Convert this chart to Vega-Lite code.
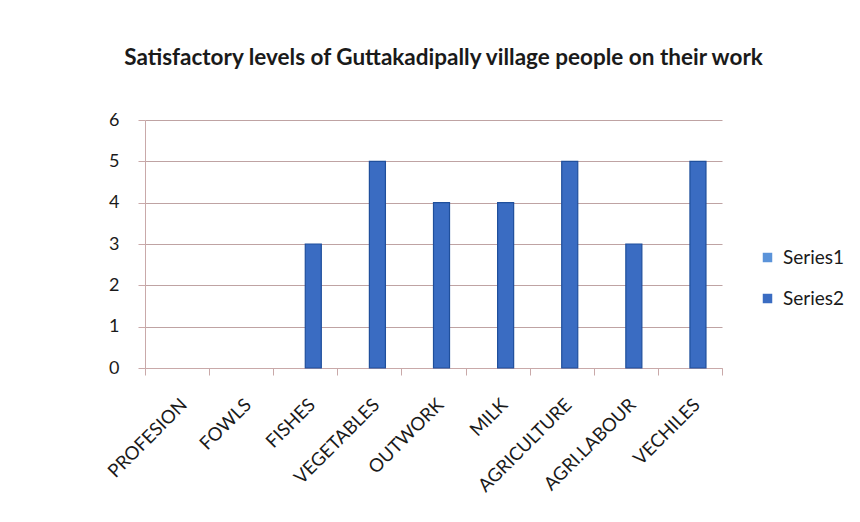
{
  "$schema": "https://vega.github.io/schema/vega-lite/v6.json",
  "autosize": {"type": "none"},
  "width": 577,
  "height": 248,
  "padding": {"left": 145, "top": 120, "right": 138, "bottom": 154},
  "background": "white",
  "title": {
    "text": "Satisfactory levels of Guttakadipally village people on their work",
    "font": "Lato",
    "fontSize": 22.5,
    "fontWeight": "bold",
    "color": "#1a1a1a",
    "anchor": "middle",
    "frame": "group",
    "dx": 10,
    "offset": 42
  },
  "data": {
    "values": [
      {"category": "PROFESION", "series": "Series1", "value": 0},
      {"category": "PROFESION", "series": "Series2", "value": 0},
      {"category": "FOWLS", "series": "Series1", "value": 0},
      {"category": "FOWLS", "series": "Series2", "value": 0},
      {"category": "FISHES", "series": "Series1", "value": 0},
      {"category": "FISHES", "series": "Series2", "value": 3},
      {"category": "VEGETABLES", "series": "Series1", "value": 0},
      {"category": "VEGETABLES", "series": "Series2", "value": 5},
      {"category": "OUTWORK", "series": "Series1", "value": 0},
      {"category": "OUTWORK", "series": "Series2", "value": 4},
      {"category": "MILK", "series": "Series1", "value": 0},
      {"category": "MILK", "series": "Series2", "value": 4},
      {"category": "AGRICULTURE", "series": "Series1", "value": 0},
      {"category": "AGRICULTURE", "series": "Series2", "value": 5},
      {"category": "AGRI.LABOUR", "series": "Series1", "value": 0},
      {"category": "AGRI.LABOUR", "series": "Series2", "value": 3},
      {"category": "VECHILES", "series": "Series1", "value": 0},
      {"category": "VECHILES", "series": "Series2", "value": 5}
    ]
  },
  "mark": {"type": "bar", "strokeWidth": 1.2},
  "encoding": {
    "x": {
      "field": "category",
      "type": "nominal",
      "sort": null,
      "scale": {"paddingInner": 0, "paddingOuter": 0},
      "axis": {
        "title": null,
        "labelAngle": -45,
        "labelFont": "Lato",
        "labelFontSize": 18.5,
        "labelColor": "#1a1a1a",
        "labelPadding": 20,
        "ticks": true,
        "tickBand": "extent",
        "tickSize": 7,
        "tickColor": "#c9a9a9",
        "domainColor": "#c9a9a9",
        "grid": false
      }
    },
    "xOffset": {
      "field": "series",
      "type": "nominal",
      "scale": {"domain": ["Series1", "Series2"], "paddingInner": 0, "paddingOuter": 1}
    },
    "y": {
      "field": "value",
      "type": "quantitative",
      "scale": {"domain": [0, 6], "nice": false},
      "axis": {
        "title": null,
        "values": [0, 1, 2, 3, 4, 5, 6],
        "labelFont": "Lato",
        "labelFontSize": 18,
        "labelColor": "#1a1a1a",
        "labelPadding": 19,
        "tickSize": 7,
        "tickColor": "#c9a9a9",
        "domainColor": "#c9a9a9",
        "gridColor": "#bfa3a3",
        "gridWidth": 1
      }
    },
    "stroke": {
      "condition": {"test": "datum.value > 0", "value": "#1f4f9c"},
      "value": null
    },
    "color": {
      "field": "series",
      "type": "nominal",
      "scale": {"domain": ["Series1", "Series2"], "range": ["#5b93d9", "#3a6cc2"]},
      "legend": {
        "title": null,
        "orient": "none",
        "legendX": 613,
        "legendY": 128,
        "symbolType": "square",
        "symbolSize": 90,
        "symbolStrokeWidth": 0,
        "labelFont": "Lato",
        "labelFontSize": 19,
        "labelColor": "#1a1a1a",
        "rowPadding": 21,
        "labelOffset": 6
      }
    }
  },
  "config": {
    "view": {"stroke": null}
  }
}
